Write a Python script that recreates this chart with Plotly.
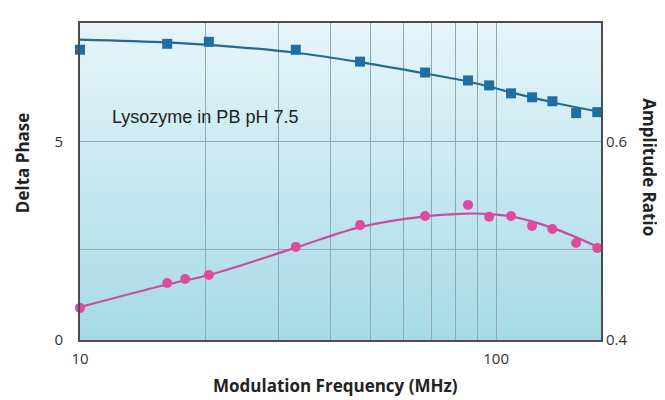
import plotly.graph_objects as go

# ---- data ----
freq_phase = [10, 16.2, 17.9, 20.4, 33.0, 47.1, 67.5, 85.6, 96.2, 108.6, 122, 136.5, 155.7, 175]
delta_phase = [0.81, 1.44, 1.54, 1.64, 2.35, 2.90, 3.13, 3.41, 3.11, 3.13, 2.88, 2.80, 2.45, 2.32]

freq_amp = [10, 16.2, 20.4, 33.0, 47.1, 67.5, 85.6, 96.2, 108.6, 122, 136.5, 155.7, 175]
amp_ratio = [0.693, 0.699, 0.701, 0.693, 0.681, 0.670, 0.662, 0.657, 0.649, 0.645, 0.641, 0.629, 0.630]

fit_freq_phase = [10, 16.2, 20.4, 33.0, 47.1, 67.5, 85.0, 96.2, 108.6, 136.5, 178]
fit_phase = [0.83, 1.40, 1.64, 2.33, 2.85, 3.12, 3.19, 3.18, 3.12, 2.83, 2.32]

fit_freq_amp = [10, 16.2, 20.4, 33.0, 47.1, 67.5, 85.6, 108.6, 136.5, 178]
fit_amp = [0.7033, 0.7005, 0.698, 0.690, 0.6805, 0.669, 0.661, 0.650, 0.640, 0.630]

x_grid = [10, 20, 30, 40, 50, 60, 70, 80, 90, 100]
x_ticktext = ["10", "", "", "", "", "", "", "", "", "100"]
y_left_ticks = [0, 2.28, 5]
y_left_text = ["0", "", "5"]
y_right_ticks = [0.4, 0.6]
y_right_text = ["0.4", "0.6"]

# ---- style ----
blue_marker = "#1f6ea3"
blue_line = "#246b90"
pink_marker = "#df4a9f"
pink_line = "#c44f9f"

fig = go.Figure()

fig.add_trace(go.Scatter(x=fit_freq_amp, y=fit_amp, mode="lines", yaxis="y2",
                         line=dict(color=blue_line, width=2.2, shape="spline", smoothing=1.0),
                         hoverinfo="skip", showlegend=False, cliponaxis=False))
fig.add_trace(go.Scatter(x=freq_amp, y=amp_ratio, mode="markers", yaxis="y2",
                         marker=dict(symbol="square", size=10, color=blue_marker),
                         showlegend=False, cliponaxis=False))
fig.add_trace(go.Scatter(x=fit_freq_phase, y=fit_phase, mode="lines",
                         line=dict(color=pink_line, width=2.2, shape="spline", smoothing=1.0),
                         hoverinfo="skip", showlegend=False, cliponaxis=False))
fig.add_trace(go.Scatter(x=freq_phase, y=delta_phase, mode="markers",
                         marker=dict(symbol="circle", size=10, color=pink_marker),
                         showlegend=False, cliponaxis=False))

# gradient background bands
top = (230, 245, 249)
bot = (166, 218, 232)
N = 60
shapes = []
for i in range(N):
    t = (i + 0.5) / N  # 0 bottom -> 1 top
    c = tuple(round(bot[k] + (top[k] - bot[k]) * t) for k in range(3))
    shapes.append(dict(type="rect", xref="paper", yref="paper",
                       x0=0, x1=1, y0=i / N, y1=(i + 1) / N + 0.002,
                       fillcolor="rgb(%d,%d,%d)" % c, line=dict(width=0), layer="below"))

tick_font = dict(family="Open Sans, DejaVu Sans, sans-serif", size=15, color="#333333")
title_font = dict(family="Open Sans, DejaVu Sans, sans-serif", size=17, color="#222222")
axis_line = "#4d4d4d"
grid_col = "#8fa9b1"

fig.update_layout(
    width=665, height=400,
    margin=dict(l=72, r=72, t=15, b=68),
    paper_bgcolor="white",
    plot_bgcolor="rgba(0,0,0,0)",
    shapes=shapes,
    xaxis=dict(type="log", range=[1, 2.252], tickvals=x_grid, ticktext=x_ticktext,
               showgrid=True, gridcolor=grid_col, gridwidth=1,
               showline=True, linecolor=axis_line, linewidth=2, mirror=True,
               ticks="", tickfont=tick_font, zeroline=False, ticklabelstandoff=4),
    yaxis=dict(range=[0, 8], tickvals=y_left_ticks, ticktext=y_left_text,
               showgrid=True, gridcolor=grid_col, gridwidth=1,
               showline=True, linecolor=axis_line, linewidth=2, mirror=True,
               ticks="", tickfont=tick_font, zeroline=False, ticklabelstandoff=12),
    yaxis2=dict(range=[0.4, 0.72], overlaying="y", side="right",
                tickvals=y_right_ticks, ticktext=y_right_text,
                showgrid=False, zeroline=False, showline=False,
                ticks="", tickfont=tick_font, ticklabelstandoff=4),
    annotations=[
        dict(text="Lysozyme in PB pH 7.5", xref="paper", yref="paper",
             x=0.058, y=0.705, xanchor="left", yanchor="middle", showarrow=False,
             font=dict(family="Liberation Sans, Arial, sans-serif", size=18, color="#222222")),
        dict(text="<b>Modulation Frequency (MHz)</b>", xref="paper", yref="paper",
             x=0.49, y=-0.145, xanchor="center", yanchor="middle", showarrow=False,
             font=title_font),
        dict(text="<b>Delta Phase</b>", xref="paper", yref="paper",
             x=-0.11, y=0.56, xanchor="center", yanchor="middle", showarrow=False, textangle=-90,
             font=title_font),
        dict(text="<b>Amplitude Ratio</b>", xref="paper", yref="paper",
             x=1.094, y=0.545, xanchor="center", yanchor="middle", showarrow=False, textangle=90,
             font=title_font),
    ],
)

fig.write_html("out.html")
